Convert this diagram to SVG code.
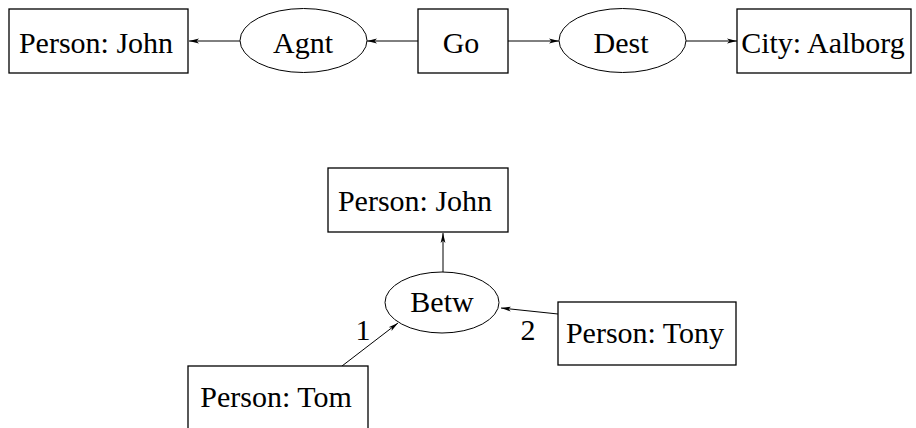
<svg xmlns="http://www.w3.org/2000/svg" width="916" height="428" viewBox="0 0 916 428">
<style>
.box{fill:#fff;stroke:#000;stroke-width:1.3}
.rel{fill:#fff;stroke:#000;stroke-width:1}
.t{font-family:'Liberation Serif','Times New Roman','DejaVu Serif',serif;font-size:30px;fill:#000;text-anchor:middle}
.edge{stroke:#000;stroke-width:1;fill:none;marker-end:url(#ah)}
</style>
<defs>
<marker id="ah" viewBox="0 0 10 6" refX="10" refY="3" markerWidth="10" markerHeight="6" markerUnits="userSpaceOnUse" orient="auto">
<path d="M0,0.6 L10,3 L0,5.4 L2.5,3 Z" fill="#000"/>
</marker>
</defs>
<rect width="916" height="428" fill="#fff"/>
<g id="connectors">
<line class="edge" x1="240" y1="41" x2="189" y2="41"/>
<line class="edge" x1="418" y1="41" x2="367" y2="41"/>
<line class="edge" x1="508" y1="41" x2="559" y2="41"/>
<line class="edge" x1="686" y1="41" x2="737" y2="41"/>
<line class="edge" x1="443" y1="272" x2="443" y2="233"/>
<line class="edge" x1="558" y1="314" x2="501" y2="308"/>
<line class="edge" x1="342" y1="366" x2="398" y2="323"/>
<text class="t" x="363" y="340">1</text>
<text class="t" x="528" y="340">2</text>
</g>
<g id="john1"><rect class="box" x="9" y="9" width="179" height="64"/><text class="t" x="96" y="53">Person: John</text></g>
<g id="agnt"><ellipse class="rel" cx="303.5" cy="40.5" rx="63.5" ry="32"/><text class="t" x="303" y="53">Agnt</text></g>
<g id="go"><rect class="box" x="418" y="9" width="90" height="64"/><text class="t" x="461" y="53">Go</text></g>
<g id="dest"><ellipse class="rel" cx="622.5" cy="40.5" rx="63.5" ry="32"/><text class="t" x="621" y="53">Dest</text></g>
<g id="aalborg"><rect class="box" x="737" y="9" width="174" height="64"/><text class="t" x="823" y="53">City: Aalborg</text></g>
<g id="john2"><rect class="box" x="328" y="168" width="180" height="64"/><text class="t" x="415" y="211">Person: John</text></g>
<g id="betw"><ellipse class="rel" cx="442" cy="302.5" rx="57" ry="30.5"/><text class="t" x="442" y="312">Betw</text></g>
<g id="tony"><rect class="box" x="558" y="302" width="178" height="63"/><text class="t" x="645" y="343">Person: Tony</text></g>
<g id="tom"><rect class="box" x="188" y="366" width="180" height="70"/><text class="t" x="276" y="407">Person: Tom</text></g>
</svg>
